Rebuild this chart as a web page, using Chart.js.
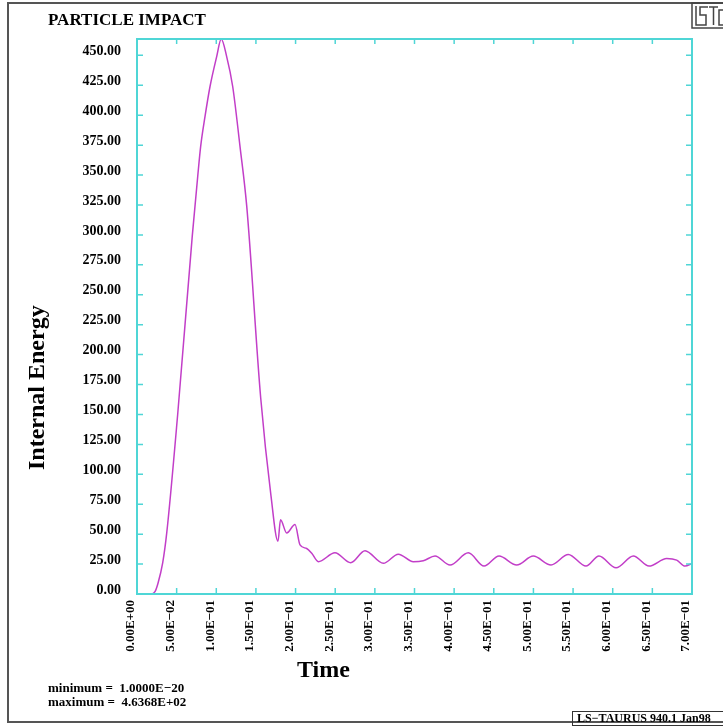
<!DOCTYPE html>
<html lang="en">
<head>
  <meta charset="UTF-8" />
  <title>Particle Impact</title>
  <script src="https://cdn.jsdelivr.net/npm/chart.js"></script>
  <style>
    html, body { margin: 0; padding: 0; background: #fff; }
    canvas { display: block; }
  </style>
</head>
<body>
  <canvas id="energyChart" width="723" height="727"></canvas>

  <script>
    // internal energy history (time, energy)
    const timeValues = [
      0, 0.018, 0.0227, 0.0265, 0.0324, 0.0375, 0.0513, 0.0697, 0.0766, 0.0803,
      0.0858, 0.0921, 0.1005, 0.1062, 0.1131, 0.1207, 0.1299, 0.1384, 0.1560, 0.1690,
      0.1778, 0.1810, 0.1888, 0.1993, 0.2056, 0.2140, 0.2204, 0.2287, 0.2497, 0.2695,
      0.2876, 0.3107, 0.3296, 0.3485, 0.3611, 0.3759, 0.3948, 0.4179, 0.4377, 0.4566,
      0.4789, 0.4998, 0.5222, 0.5440, 0.5663, 0.5827, 0.6042, 0.6260, 0.6458, 0.6681,
      0.6807, 0.6912, 0.7000
    ];
    const energyValues = [
      1e-20, 1e-20, 2, 9, 26, 51, 150, 299, 349, 374,
      399, 424, 449, 463.68, 449, 424, 374, 324, 164, 82,
      44, 62, 51, 58, 41, 38, 34, 27, 34.4, 26.1,
      36.1, 25.6, 33.3, 27, 27.8, 31.7, 24.2, 34.4, 23.3, 31.7,
      24.2, 31.7, 24.2, 33, 23.3, 31.7, 21.9, 31.7, 23.3, 29.7,
      28.3, 23.3, 25.6
    ];
    const xTickStep = 0.05;
    const yTickStep = 25;
    const timeMax = 0.7;

    const SERIF = '"Liberation Serif", "DejaVu Serif", serif';
    const CYAN = '#4fd6d6';
    const FRAME = '#555';

    const eMin = Math.min(...energyValues);
    const eMax = Math.max(...energyValues);

    // 1.0000E-20 style numbers
    function sci(v, digits) {
      if (Math.abs(v) < 1e-30) return (0).toFixed(digits) + 'E+00';
      const e = Math.floor(Math.log10(Math.abs(v)) + 1e-9);
      const m = v / Math.pow(10, e);
      return m.toFixed(digits) + 'E' + (e < 0 ? '\u2212' : '+') + String(Math.abs(e)).padStart(2, '0');
    }

    const decorations = {
      id: 'decorations',
      beforeDraw(chart) {
        const ctx = chart.ctx;
        ctx.save();
        ctx.fillStyle = '#fff';
        ctx.fillRect(0, 0, chart.width, chart.height);
        ctx.restore();
      },
      afterDraw(chart) {
        const ctx = chart.ctx;
        const a = chart.chartArea;
        const xs = chart.scales.x, ys = chart.scales.y;
        ctx.save();

        // outer page frame
        ctx.strokeStyle = FRAME;
        ctx.lineWidth = 2;
        ctx.beginPath();
        ctx.moveTo(730, 3); ctx.lineTo(8, 3); ctx.lineTo(8, 722); ctx.lineTo(730, 722);
        ctx.stroke();

        // logo box
        ctx.lineWidth = 1.5;
        ctx.strokeStyle = '#444';
        ctx.strokeRect(692, 3, 40, 25);
        ctx.beginPath();
        ctx.moveTo(696, 6); ctx.lineTo(696, 25); ctx.lineTo(703, 25);
        ctx.moveTo(708, 7); ctx.lineTo(700, 7); ctx.lineTo(700, 15); ctx.lineTo(706, 15); ctx.lineTo(706, 25); ctx.lineTo(700, 25);
        ctx.moveTo(709, 7); ctx.lineTo(718, 7);
        ctx.moveTo(713.5, 7); ctx.lineTo(713.5, 25);
        ctx.moveTo(723, 10); ctx.lineTo(719, 10); ctx.lineTo(719, 25); ctx.lineTo(723, 25);
        ctx.stroke();

        // plot frame and inward tick marks
        ctx.strokeStyle = CYAN;
        ctx.lineWidth = 2;
        ctx.strokeRect(a.left, a.top, a.right - a.left, a.bottom - a.top);
        ctx.lineWidth = 1.5;
        ctx.beginPath();
        xs.ticks.forEach(t => {
          const px = xs.getPixelForValue(t.value);
          ctx.moveTo(px, a.bottom); ctx.lineTo(px, a.bottom - 6);
          ctx.moveTo(px, a.top); ctx.lineTo(px, a.top + 5);
        });
        ys.ticks.forEach(t => {
          const py = ys.getPixelForValue(t.value);
          ctx.moveTo(a.left, py); ctx.lineTo(a.left + 6, py);
          ctx.moveTo(a.right, py); ctx.lineTo(a.right - 6, py);
        });
        ctx.stroke();

        // texts
        ctx.fillStyle = '#000';
        ctx.textBaseline = 'alphabetic';
        ctx.textAlign = 'left';
        ctx.font = 'bold 17px ' + SERIF;
        ctx.fillText('PARTICLE IMPACT', 48, 25);

        ctx.font = 'bold 24px ' + SERIF;
        ctx.fillText('Time', 297, 677);

        ctx.save();
        ctx.translate(44, 470);
        ctx.rotate(-Math.PI / 2);
        ctx.fillText('Internal Energy', 0, 0);
        ctx.restore();

        ctx.font = 'bold 13px ' + SERIF;
        ctx.fillText('minimum =  ' + sci(eMin, 4), 48, 692);
        ctx.fillText('maximum =  ' + sci(eMax, 4), 48, 706);

        // version stamp
        ctx.strokeStyle = '#333';
        ctx.lineWidth = 1;
        ctx.strokeRect(572.5, 711.5, 160, 14);
        ctx.font = 'bold 12px ' + SERIF;
        ctx.fillText('LS\u2212TAURUS 940.1 Jan98', 577, 722);

        ctx.restore();
      }
    };

    const points = timeValues.map((t, i) => ({ x: t, y: energyValues[i] }));

    new Chart(document.getElementById('energyChart'), {
      type: 'line',
      data: {
        datasets: [{
          data: points,
          borderColor: '#c23ec8',
          borderWidth: 1.5,
          pointRadius: 0,
          fill: false,
          cubicInterpolationMode: 'monotone',
          clip: false
        }]
      },
      options: {
        responsive: false,
        animation: false,
        layout: { padding: { left: 0, top: 39, right: 31, bottom: 0 } },
        plugins: { legend: { display: false }, tooltip: { enabled: false } },
        scales: {
          x: {
            type: 'linear',
            min: 0,
            max: timeMax,
            grid: { display: false, drawTicks: false },
            border: { display: false },
            afterFit: s => { s.height = 133; },
            ticks: {
              stepSize: xTickStep,
              autoSkip: false,
              minRotation: 90,
              maxRotation: 90,
              padding: 6,
              labelOffset: -6,
              color: '#000',
              font: { family: SERIF, size: 13, weight: 'bold' },
              callback: v => sci(v, 2)
            }
          },
          y: {
            type: 'linear',
            min: 0,
            max: eMax,
            grid: { display: false, drawTicks: false },
            border: { display: false },
            afterFit: s => { s.width = 137; },
            afterBuildTicks: s => {
              s.ticks = s.ticks.filter(t => Math.abs(t.value / yTickStep - Math.round(t.value / yTickStep)) < 1e-6);
            },
            ticks: {
              stepSize: yTickStep,
              padding: 16,
              labelOffset: -4,
              color: '#000',
              font: { family: SERIF, size: 14, weight: 'bold' },
              callback: v => v.toFixed(2)
            }
          }
        }
      },
      plugins: [decorations]
    });
  </script>
</body>
</html>
